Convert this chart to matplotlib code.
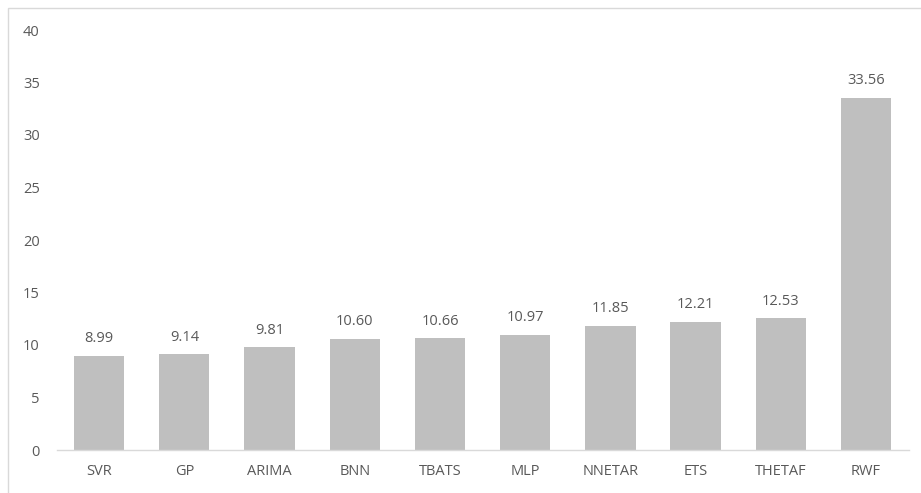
import matplotlib
matplotlib.use("Agg")
import matplotlib.pyplot as plt
from matplotlib.patches import Rectangle

categories = ["SVR", "GP", "ARIMA", "BNN", "TBATS", "MLP", "NNETAR", "ETS", "THETAF", "RWF"]
values = [8.99, 9.14, 9.81, 10.60, 10.66, 10.97, 11.85, 12.21, 12.53, 33.56]
yticks = [0, 5, 10, 15, 20, 25, 30, 35, 40]

plt.rcParams['font.family'] = ['Open Sans', 'DejaVu Sans']
text_color = "#595959"

fig = plt.figure(figsize=(9.21, 4.93), dpi=100)
ax = fig.add_axes([56.5/921, 43/493, (908.6-56.5)/921, 420/493])

x = range(len(categories))
ax.bar(x, values, width=0.59, color="#BFBFBF", zorder=2)
for xi, v in zip(x, values):
    ax.text(xi, v + 0.9, f"{v:.2f}", ha="center", va="bottom", fontsize=10.5, color=text_color)

ax.set_xlim(-0.5, len(categories) - 0.5)
ax.set_ylim(0, 40)
ax.set_yticks(yticks)
ax.set_xticks(list(x))
ax.set_xticklabels(categories)
ax.tick_params(axis="both", length=0, labelsize=10.5, labelcolor=text_color)
ax.tick_params(axis="y", pad=12)
ax.tick_params(axis="x", pad=10)
for s in ["top", "right", "left"]:
    ax.spines[s].set_visible(False)
ax.spines["bottom"].set_color("#D9D9D9")
ax.spines["bottom"].set_linewidth(1)

fig.patches.append(Rectangle((8/921, -0.1), 1.0, 0.1 + 485/493, transform=fig.transFigure,
                             fill=False, edgecolor="#D9D9D9", linewidth=1))

fig.savefig("out.png", dpi=100)
